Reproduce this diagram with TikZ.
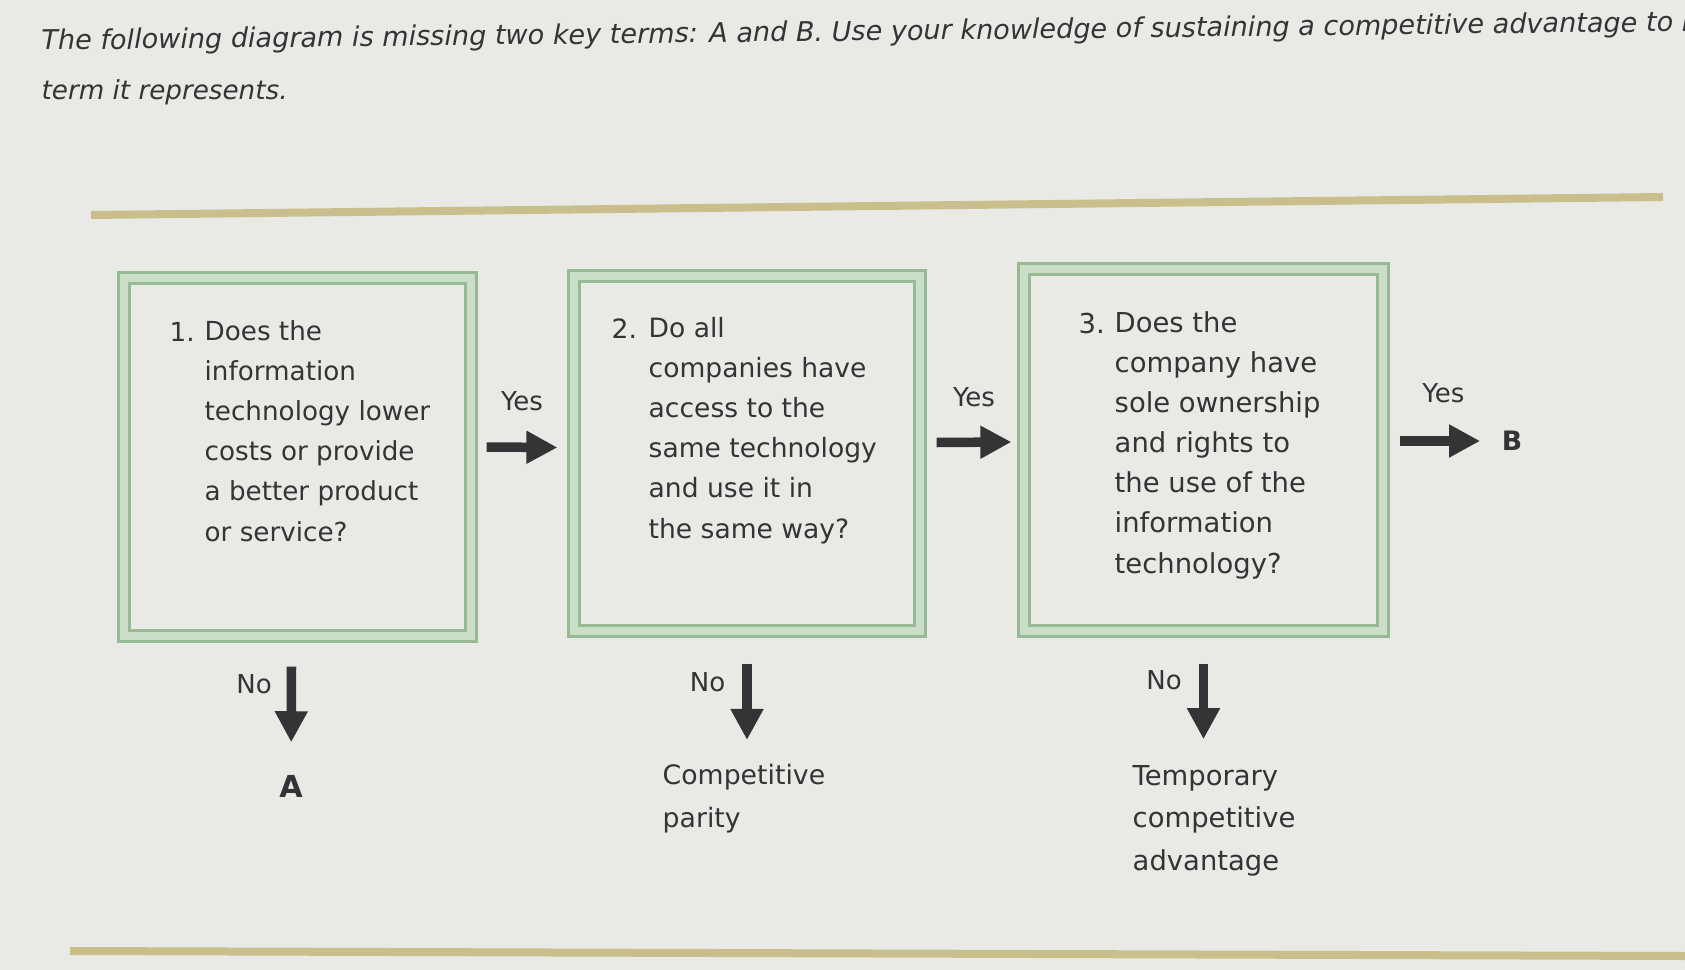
\documentclass[tikz,border=0pt]{standalone}
\usepackage{fontspec}
\setmainfont{DejaVu Sans}
\usetikzlibrary{arrows.meta}
\usetikzlibrary{positioning}
\definecolor{paper}{RGB}{233,234,229}
\definecolor{frameline}{RGB}{150,186,148}
\definecolor{frameband}{RGB}{203,222,199}
\definecolor{rulecol}{RGB}{201,191,140}
\definecolor{ink}{RGB}{50,52,53}
\tikzset{
    question/.style={
        draw=frameline,
        double=frameband,
        double distance=0.08cm,
        line width=0.03cm,
        inner sep=0pt
    },
    % anchored at the baseline of the last line
    qtext/.style={
        anchor=base west,
        align=left,
        inner sep=0pt,
        text=ink,
        font=\fontsize{#1}{11.38}\selectfont
    },
    qtext/.default=7.45,
    lbl/.style={
        inner sep=0pt,
        text=ink,
        font=\fontsize{7.4}{11.38}\selectfont
    },
    key/.style={
        inner sep=0pt,
        text=ink,
        font=\fontsize{#1}{11.38}\selectfont\bfseries
    },
    key/.default=7.6,
    flow/.style={
        draw=ink,
        line width=0.095cm,
        -{Triangle[length=0.31cm, width=0.31cm]}
    },
    rule/.style={
        draw=rulecol,
        line width=0.08cm
    },
    intro/.style={
        anchor=base west,
        inner sep=0pt,
        text=ink,
        font=\fontsize{#1}{11.38}\selectfont\itshape
    },
    intro/.default=7.45
}

\begin{document}
\begin{tikzpicture}[x=0.01cm, y=-0.01cm]
    % Page
    \fill[paper] (0,0) rectangle (1685,970);
    \useasboundingbox (0,0) rectangle (1685,970);

    % Instructions
    \node[intro=7.7, rotate=0.65] (intro1) at (41,50) {The following diagram is missing two key terms: A and B. Use your knowledge of sustaining a competitive advantage to r};
    \node[intro] (intro2) at (41,100) {term it represents.};

    % Rules
    \draw[rule] (91,215) -- (1663,197);
    \draw[rule] (70,951) -- (1685,956);

    % Question boxes
    \node[question, minimum width=3.47cm, minimum height=3.58cm] (q1) at (297.5,457) {};
    \node[question, minimum width=3.46cm, minimum height=3.55cm] (q2) at (747,453.5) {};
    \node[question, minimum width=3.59cm, minimum height=3.62cm] (q3) at (1203.5,450) {};

    % Question texts
    \node[qtext] (n1) at (169,341) {1.};
    \node[qtext] (t1) at (204,541) {Does the\\information\\technology lower\\costs or provide\\a better product\\or service?};
    \node[qtext=7.55] (n2) at (611,338) {2.};
    \node[qtext=7.55] (t2) at (648,538) {Do all\\companies have\\access to the\\same technology\\and use it in\\the same way?};
    \node[qtext=7.8] (n3) at (1078,333) {3.};
    \node[qtext=7.8] (t3) at (1114,573) {Does the\\company have\\sole ownership\\and rights to\\the use of the\\information\\technology?};

    % Outcomes
    \node[key=8.6] (ansA) at (291,786) {A};
    \node[qtext=7.6, font=\fontsize{7.6}{11.95}\selectfont] (parity) at (662,827) {Competitive\\parity};
    \node[qtext=7.8, font=\fontsize{7.8}{11.95}\selectfont] (temporary) at (1132,870) {Temporary\\competitive\\advantage};
    \node[key] (ansB) at (1512,441) {B};

    % Yes arrows
    \draw[flow] ([shift={(14,-10)}]q1.east) -- ([shift={(-15,-6)}]q2.west) node[lbl, midway, above=0.32cm] {Yes};
    \draw[flow] ([shift={(15,-11)}]q2.east) -- ([shift={(-11,-8)}]q3.west) node[lbl, midway, above=0.31cm] {Yes};
    \draw[flow, shorten >=0.21cm] ([shift={(15,-9)}]q3.east) -- (ansB) node[lbl, midway, above=0.33cm, xshift=-0.07cm] {Yes};

    % No arrows
    \draw[flow, shorten >=0.32cm] ([shift={(-6,29)}]q1.south) -- (ansA) node[lbl, at start, anchor=base east, xshift=-0.15cm, yshift=-0.27cm] {No};
    \draw[flow, shorten >=0.24cm] ([shift={(0,31)}]q2.south) -- (q2.south |- parity.north) node[lbl, at start, anchor=base east, xshift=-0.17cm, yshift=-0.28cm] {No};
    \draw[flow, shorten >=0.26cm] ([shift={(0,31)}]q3.south) -- (q3.south |- temporary.north) node[lbl, at start, anchor=base east, xshift=-0.17cm, yshift=-0.26cm] {No};
\end{tikzpicture}
\end{document}
